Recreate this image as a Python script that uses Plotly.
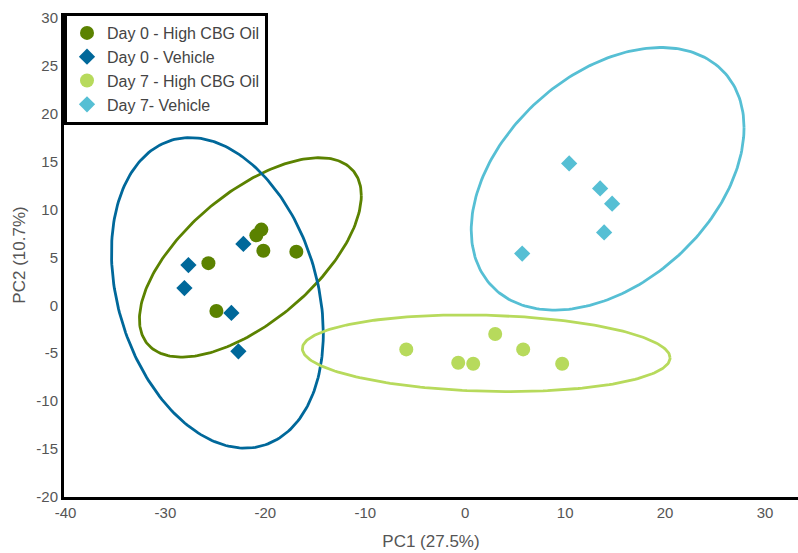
import numpy as np
import plotly.graph_objects as go

# ---- data ----
d0_cbg_x = [-20.4, -20.9, -20.2, -16.9, -25.7, -24.9]
d0_cbg_y = [7.9, 7.3, 5.7, 5.6, 4.4, -0.6]

d0_veh_x = [-22.2, -27.7, -28.1, -23.4, -22.7]
d0_veh_y = [6.4, 4.2, 1.8, -0.8, -4.8]

d7_cbg_x = [-5.9, -0.7, 0.8, 3.0, 5.8, 9.7]
d7_cbg_y = [-4.6, -6.0, -6.1, -3.0, -4.6, -6.1]

d7_veh_x = [10.4, 13.5, 14.7, 13.9, 5.7]
d7_veh_y = [14.8, 12.2, 10.6, 7.6, 5.4]

names = ["Day 0 - High CBG Oil", "Day 0 - Vehicle", "Day 7 - High CBG Oil", "Day 7- Vehicle"]
colors = ["#5b8200", "#00689a", "#b7da5c", "#56bfd4"]
symbols = ["circle", "diamond", "circle", "diamond"]

# confidence ellipses: centre x, centre y, x half-extent, y half-extent, correlation
ell_cx = [-21.5, -24.8, 2.1, 14.25]
ell_cy = [5.0, 1.3, -5.0, 13.2]
ell_sx = [11.1, 10.6, 18.4, 13.65]
ell_sy = [10.4, 16.2, 4.0, 13.7]
ell_rho = [0.62, -0.26, -0.12, 0.39]

series_x = [d0_cbg_x, d0_veh_x, d7_cbg_x, d7_veh_x]
series_y = [d0_cbg_y, d0_veh_y, d7_cbg_y, d7_veh_y]

x_ticks = [-40, -30, -20, -10, 0, 10, 20, 30]
x_ticklabels = ["-40", "-30", "-20", "-10", "0", "10", "20", "30"]
y_ticks = [-20, -15, -10, -5, 0, 5, 10, 15, 20, 25, 30]
y_ticklabels = ["-20", "-15", "-10", "-5", "0", "5", "10", "15", "20", "25", "30"]

fig = go.Figure()

t = np.linspace(0, 2 * np.pi, 241)
for i in range(4):
    sx, sy, r = ell_sx[i], ell_sy[i], ell_rho[i]
    ex = ell_cx[i] + sx * np.cos(t)
    ey = ell_cy[i] + r * sy * np.cos(t) + sy * np.sqrt(1 - r * r) * np.sin(t)
    fig.add_trace(go.Scatter(x=ex, y=ey, mode="lines", line=dict(color=colors[i], width=2.8),
                             showlegend=False, hoverinfo="skip"))

for i in range(4):
    fig.add_trace(go.Scatter(
        x=series_x[i], y=series_y[i], mode="markers", name=names[i],
        marker=dict(symbol=symbols[i], color=colors[i],
                    size=14 if symbols[i] == "circle" else 12.5,
                    line=dict(width=0)),
    ))

fig.update_layout(
    width=798, height=553,
    margin=dict(l=64, r=0, t=13, b=56),
    plot_bgcolor="white", paper_bgcolor="white",
    font=dict(family="Liberation Sans, Arial, sans-serif", color="#555555", size=15),
    legend=dict(x=0, y=1, xanchor="left", yanchor="top",
                bordercolor="black", borderwidth=3, bgcolor="white",
                font=dict(size=16, color="#444444"),
                tracegroupgap=0, itemwidth=30),
    showlegend=True,
)
fig.update_xaxes(range=[-40.15, 33.3], tickvals=x_ticks, ticktext=x_ticklabels,
                 showgrid=False, zeroline=False, automargin=False,
                 showline=True, linecolor="black", linewidth=3, ticks="",
                 title=dict(text="PC1 (27.5%)", font=dict(size=17, color="#555555"), standoff=16),
                 tickfont=dict(size=15, color="#555555"))
fig.update_yaxes(range=[-20, 30.5], tickvals=y_ticks, ticktext=y_ticklabels,
                 showgrid=False, zeroline=False, automargin=False,
                 showline=True, linecolor="black", linewidth=3, ticks="",
                 title=dict(text="PC2 (10.7%)", font=dict(size=17, color="#555555"), standoff=7),
                 tickfont=dict(size=15, color="#555555"))

fig.write_html("out.html", config={"displayModeBar": False},
               post_script="document.body.style.margin='0';document.body.style.overflow='hidden';")
